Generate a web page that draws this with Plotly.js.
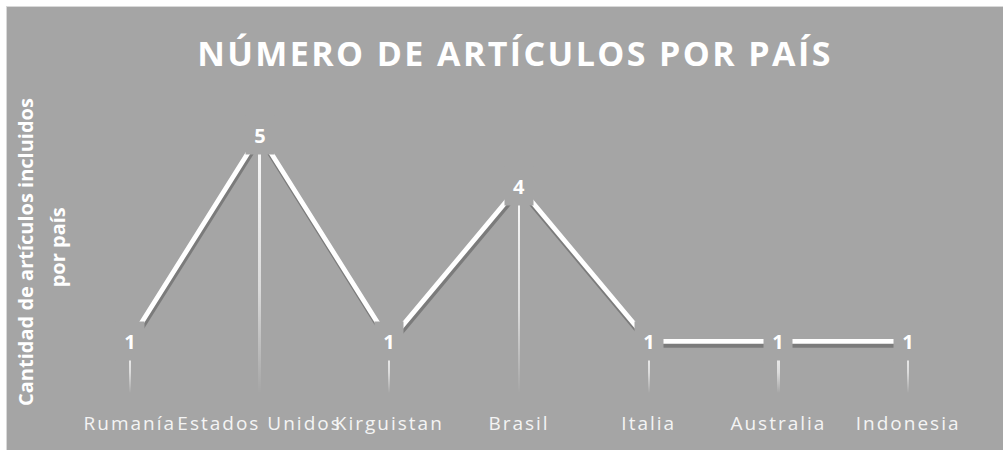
<!DOCTYPE html>
<html>
<head>
<meta charset="utf-8">
<script src="https://cdn.plot.ly/plotly-3.0.1.min.js"></script>
<style>
  html, body { margin: 0; padding: 0; background: #ffffff; width: 1003px; height: 450px; overflow: hidden; }
  #frame { position: absolute; left: 6px; top: 6px; width: 997px; height: 444px; background: #d9d9d9; }
  #chart { position: absolute; left: 7px; top: 7px; width: 996px; height: 443px; }
</style>
</head>
<body>
<div id="frame"></div>
<div id="chart"></div>
<script>
// ---- data ----
const categories = ['Rumanía', 'Estados Unidos', 'Kirguistan', 'Brasil', 'Italia', 'Australia', 'Indonesia'];
const articles = [1, 5, 1, 4, 1, 1, 1];
const chartTitle = 'NÚMERO DE ARTÍCULOS POR PAÍS';
const yTitleLines = ['Cantidad de artículos incluidos', 'por país'];

const BG = '#a5a5a5';

const dropLines = {
  type: 'bar',
  x: categories,
  y: articles,
  width: 0.017,
  marker: { color: '#ffffff', line: { width: 0 } },
  hoverinfo: 'skip',
  showlegend: false
};

const lineTrace = {
  type: 'scatter',
  mode: 'lines',
  x: categories,
  y: articles,
  line: { color: '#ffffff', width: 4.8 },
  hoverinfo: 'skip',
  showlegend: false
};

const labelAnnotations = categories.map((c, i) => ({
  x: c, y: articles[i], xref: 'x', yref: 'y',
  text: '<b>' + String(articles[i]) + '</b>',
  showarrow: false,
  font: { family: 'Open Sans', size: 20, color: '#ffffff' },
  bgcolor: BG,
  width: 26, height: 36,
  xanchor: 'center', yanchor: 'middle'
}));

const yTitleAnnotations = [
  { text: '<b>' + yTitleLines[0] + '</b>', x: -39 / 908, y: 0.455 },
  { text: '<b>' + yTitleLines[1] + '</b>', x: -8 / 908, y: 0.47 }
].map(a => ({
  text: a.text, xref: 'paper', yref: 'paper', x: a.x, y: a.y,
  xanchor: 'center', yanchor: 'middle', textangle: -90, showarrow: false,
  font: { family: 'Open Sans', size: 20, color: '#ffffff' }
}));

const layout = {
  width: 996, height: 443,
  margin: { l: 58, r: 30, t: 75.5, b: 57 },
  paper_bgcolor: BG,
  plot_bgcolor: BG,
  title: {
    text: '<b>' + chartTitle + '</b>',
    font: { family: 'Open Sans', size: 34, color: '#ffffff' },
    xref: 'container', x: 508 / 996, xanchor: 'center',
    yref: 'container', y: 1 - 47 / 443, yanchor: 'middle'
  },
  xaxis: {
    type: 'category',
    range: [-0.5, 6.5],
    showgrid: false, zeroline: false, showline: false, ticks: '',
    tickfont: { family: 'Open Sans', size: 19, color: '#f4f4f4' },
    ticklabelstandoff: 17
  },
  yaxis: {
    range: [0, 6],
    showgrid: false, zeroline: false, showline: false, ticks: '',
    showticklabels: false
  },
  annotations: labelAnnotations.concat(yTitleAnnotations),
  bargap: 0,
  showlegend: false
};

Plotly.newPlot('chart', [dropLines, lineTrace], layout, { staticPlot: true }).then(gd => {
  const svg = gd.querySelector('svg.main-svg');
  const NS = 'http://www.w3.org/2000/svg';
  let defs = svg.querySelector('defs');
  if (!defs) { defs = document.createElementNS(NS, 'defs'); svg.insertBefore(defs, svg.firstChild); }
  const grad = document.createElementNS(NS, 'linearGradient');
  grad.setAttribute('id', 'dropGrad');
  grad.setAttribute('x1', '0'); grad.setAttribute('y1', '0');
  grad.setAttribute('x2', '0'); grad.setAttribute('y2', '1');
  [['0', 0.95], ['0.6', 0.6], ['1', 0.0]].forEach(([off, op]) => {
    const s = document.createElementNS(NS, 'stop');
    s.setAttribute('offset', off);
    s.setAttribute('stop-color', '#ffffff');
    s.setAttribute('stop-opacity', op);
    grad.appendChild(s);
  });
  defs.appendChild(grad);
  gd.querySelectorAll('.barlayer .point path').forEach(p => { p.style.fill = 'url(#dropGrad)'; p.style.fillOpacity = 1; });
  gd.querySelectorAll('.scatterlayer .js-line').forEach(p => {
    p.style.filter = 'drop-shadow(1px 4px 0px rgba(0,0,0,0.25))';
    p.style.strokeLinecap = 'butt';
  });
  gd.querySelectorAll('.xtick text').forEach(t => { t.style.letterSpacing = '2px'; });
  gd.querySelectorAll('.gtitle').forEach(t => { t.style.letterSpacing = '2.4px'; });
});
</script>
</body>
</html>
